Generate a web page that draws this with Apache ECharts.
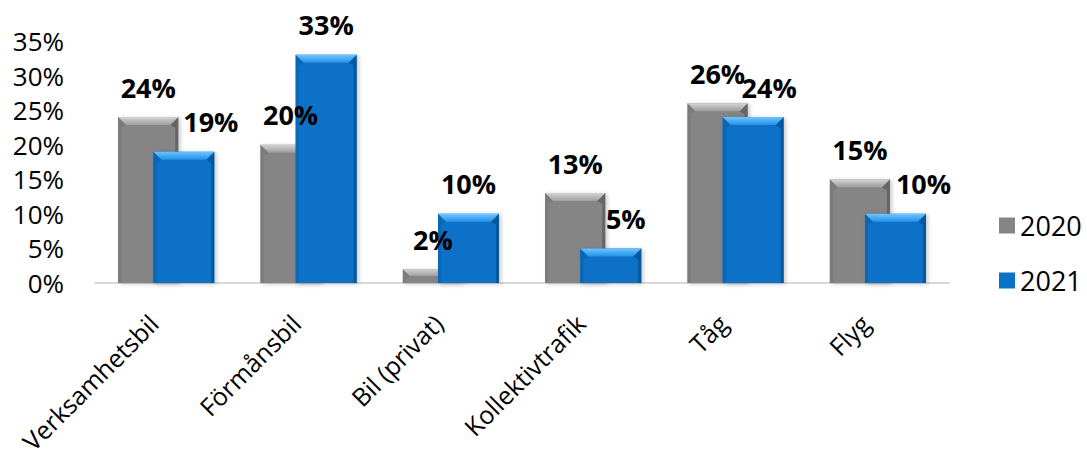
<!DOCTYPE html>
<html>
<head>
<meta charset="utf-8">
<script src="https://cdn.jsdelivr.net/npm/echarts@6/dist/echarts.min.js"></script>
<style>
  html, body { margin: 0; padding: 0; background: #ffffff; }
  #chart { width: 1087px; height: 464px; }
</style>
</head>
<body>
<div id="chart"></div>
<script>
// Share of business travel by mode, 2020 vs 2021 (percent)
const categories = ['Verksamhetsbil', 'Förmånsbil', 'Bil (privat)', 'Kollektivtrafik', 'Tåg', 'Flyg'];
const values2020 = [24, 20, 2, 13, 26, 15];
const values2021 = [19, 33, 10, 5, 24, 10];
const seriesNames = ['2020', '2021'];
const axisMax = 35;
const axisStep = 5;

const FONT = '"Open Sans", "Noto Sans", sans-serif';

// Bevelled bar look: flat body, lit top facet, shaded side edges
const palettes = {
  '2020': { body: '#858585', top0: '#d4d4d4', top1: '#9d9d9d', left: '#7b7b7b', right: '#656565' },
  '2021': { body: '#0a72c7', top0: '#6cc6ff', top1: '#2690e6', left: '#0967b6', right: '#05579d' }
};
// Bar placement inside each category band, as fractions of the band width
const barLayout = {
  '2020': { from: -0.337, width: 0.422 },
  '2021': { from: -0.09, width: 0.428 }
};
// Horizontal nudge of individual value labels (px)
const labelNudge = {
  '2020': [0, 0, 0, 0, 0, 0],
  '2021': [27, 0, 0, 15, 16, 28]
};

function bevelBar(name) {
  const pal = palettes[name];
  const lay = barLayout[name];
  const nudge = labelNudge[name];
  return function (params, api) {
    const i = api.value(0);
    const v = api.value(1);
    const base = api.coord([i, 0]);
    const top = api.coord([i, v]);
    const band = api.size([1, 0])[0];
    const x0 = base[0] + lay.from * band;
    const w = lay.width * band;
    const x1 = x0 + w;
    const y0 = top[1];
    const y1 = base[1];
    const h = y1 - y0;
    const b = Math.min(8, h / 2, w / 2);
    const s = Math.min(3, w / 4);
    return {
      type: 'group',
      children: [
        {
          type: 'rect',
          shape: { x: x0, y: y0, width: w, height: h },
          style: { fill: pal.body, shadowBlur: 4, shadowColor: 'rgba(0,0,0,0.22)', shadowOffsetX: 2, shadowOffsetY: 1 }
        },
        {
          type: 'polygon',
          shape: { points: [[x0, y0], [x0 + b, y0 + b], [x0 + s, y0 + b + s], [x0 + s, y1], [x0, y1]] },
          style: { fill: pal.left }
        },
        {
          type: 'polygon',
          shape: { points: [[x1, y0], [x1 - b, y0 + b], [x1 - s, y0 + b + s], [x1 - s, y1], [x1, y1]] },
          style: { fill: pal.right }
        },
        {
          type: 'polygon',
          shape: { points: [[x0, y0], [x1, y0], [x1 - b, y0 + b], [x0 + b, y0 + b]] },
          style: {
            fill: {
              type: 'linear', x: 0, y: 0, x2: 0, y2: 1,
              colorStops: [{ offset: 0, color: pal.top0 }, { offset: 1, color: pal.top1 }]
            }
          }
        },
        {
          type: 'text',
          z2: 100,
          style: {
            text: v + '%',
            x: (x0 + x1) / 2 + nudge[i],
            y: y0 - 30,
            align: 'center',
            verticalAlign: 'middle',
            font: 'bold 27px ' + FONT,
            fill: '#000000'
          }
        }
      ]
    };
  };
}

const seriesValues = { '2020': values2020, '2021': values2021 };

const chart = echarts.init(document.getElementById('chart'), null, { renderer: 'svg' });

chart.setOption({
  backgroundColor: '#ffffff',
  animation: false,
  grid: { left: 95, right: 138, top: 41, bottom: 181, containLabel: false, outerBoundsMode: 'none' },
  legend: {
    orient: 'vertical',
    left: 994,
    top: 207,
    itemWidth: 16,
    itemHeight: 16,
    itemGap: 28,
    icon: 'rect',
    textStyle: { fontFamily: FONT, fontSize: 27, color: '#000000' },
    data: seriesNames.map(n => ({ name: n, itemStyle: { color: palettes[n].body } }))
  },
  xAxis: {
    type: 'category',
    data: categories,
    axisLine: { show: true, lineStyle: { color: '#d9d9d9', width: 2 } },
    axisTick: { show: false },
    axisLabel: {
      interval: 0,
      rotate: 45,
      verticalAlign: 'middle',
      margin: 23,
      padding: [0, 18, 0, 0],
      fontFamily: FONT,
      fontSize: 25,
      color: '#000000'
    },
    splitLine: { show: false }
  },
  yAxis: {
    type: 'value',
    min: 0,
    max: axisMax,
    interval: axisStep,
    axisLine: { show: false },
    axisTick: { show: false },
    splitLine: { show: false },
    axisLabel: {
      margin: 31,
      fontFamily: FONT,
      fontSize: 26,
      color: '#000000',
      formatter: '{value}%'
    }
  },
  series: seriesNames.map(n => ({
    type: 'custom',
    name: n,
    itemStyle: { color: palettes[n].body },
    encode: { x: 0, y: 1 },
    renderItem: bevelBar(n),
    data: seriesValues[n].map((v, i) => [i, v])
  }))
});
</script>
</body>
</html>
